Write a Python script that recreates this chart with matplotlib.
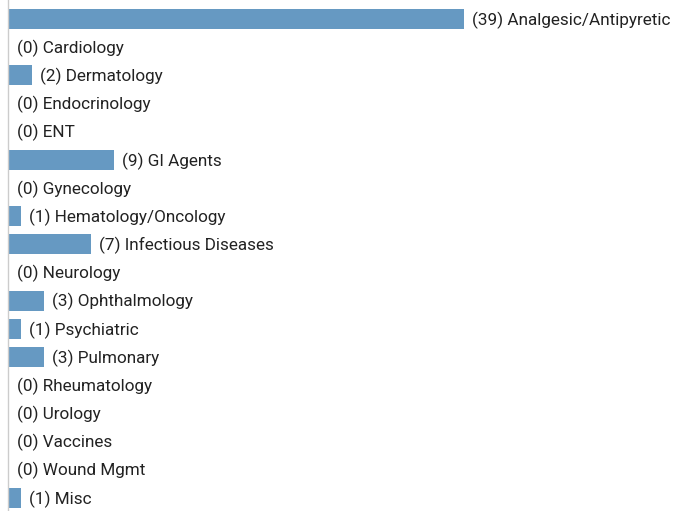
import matplotlib.pyplot as plt

categories = ['Analgesic/Antipyretic', 'Cardiology', 'Dermatology', 'Endocrinology',
              'ENT', 'GI Agents', 'Gynecology', 'Hematology/Oncology',
              'Infectious Diseases', 'Neurology', 'Ophthalmology', 'Psychiatric',
              'Pulmonary', 'Rheumatology', 'Urology', 'Vaccines', 'Wound Mgmt', 'Misc']
counts = [39, 0, 2, 0, 0, 9, 0, 1, 7, 0, 3, 1, 3, 0, 0, 0, 0, 1]

W, H = 689, 511
fig = plt.figure(figsize=(W / 100, H / 100), dpi=100)
left = 8
ax = fig.add_axes([left / W, 0, 1 - left / W, 1])

px_per_unit = (464 - 9) / 39
row = (498 - 19) / 17
ax.set_xlim(-1 / px_per_unit, (W - left - 1) / px_per_unit)
ax.set_ylim((H - 19) / row, -19 / row)

pos = list(range(len(categories)))
ax.barh(pos, counts, height=20 / row, color='#6699c2', left=0)

for i, (c, n) in enumerate(zip(categories, counts)):
    ax.annotate('(%d) %s' % (n, c), xy=(n, i), xytext=(8, -1),
                textcoords='offset pixels', va='center', ha='left',
                fontsize=12.3, family='Roboto', color='#222222')

for s in ['top', 'right', 'bottom']:
    ax.spines[s].set_visible(False)
ax.spines['left'].set_color('#cccccc')
ax.spines['left'].set_linewidth(1)
ax.set_xticks([])
ax.set_yticks([])

fig.savefig('out.png', dpi=100)
